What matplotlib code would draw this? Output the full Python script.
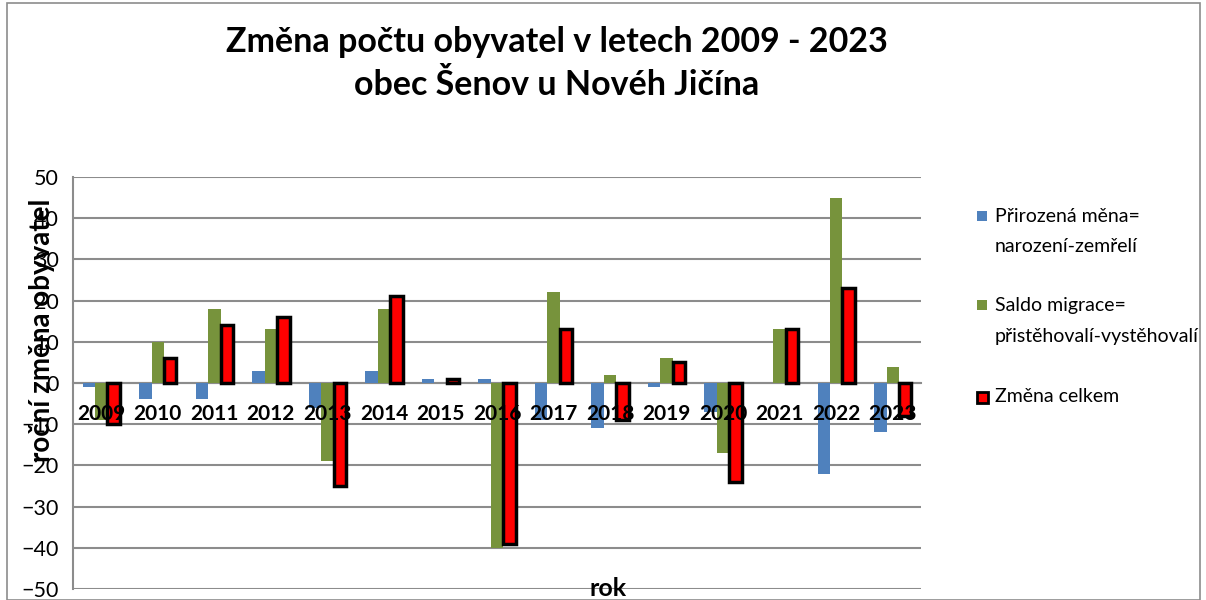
import matplotlib
matplotlib.use("Agg")
import matplotlib.pyplot as plt
import numpy as np
from matplotlib.patches import Rectangle

plt.rcParams['font.family'] = ['Lato', 'DejaVu Sans']

years = ['2009', '2010', '2011', '2012', '2013', '2014', '2015', '2016',
         '2017', '2018', '2019', '2020', '2021', '2022', '2023']
prirozena = [-1, -4, -4, 3, -6, 3, 1, 1, -9, -11, -1, -7, 0, -22, -12]
migrace = [-9, 10, 18, 13, -19, 18, 0, -40, 22, 2, 6, -17, 13, 45, 4]
celkem = [-10, 6, 14, 16, -25, 21, 1, -39, 13, -9, 5, -24, 13, 23, -8]

labels = [['Přirozená měna=', 'narození-zemřelí'],
          ['Saldo migrace=', 'přistěhovalí-vystěhovalí'],
          ['Změna celkem']]
colors = ['#4F81BD', '#77933C', '#FF0000']

W, H = 1206, 600
fig = plt.figure(figsize=(12.06, 6.0), dpi=100)
ax = fig.add_axes([73/W, 1-589/H, (921-73)/W, (589-177)/H])

x = np.arange(len(years))
w = 0.22
ax.bar(x - w, prirozena, w, color=colors[0], zorder=3)
ax.bar(x, migrace, w, color=colors[1], zorder=3)
ax.bar(x + w, celkem, w, color=colors[2], edgecolor='black', linewidth=2.5, zorder=4)

ax.set_xlim(-0.5, len(years) - 0.5)
ax.set_ylim(-50, 50)
ax.set_yticks(np.arange(-50, 51, 10))
ax.yaxis.grid(True, color='#8C8C8C', linewidth=1.5, zorder=0)
ax.set_axisbelow(True)

for s in ['top', 'right']:
    ax.spines[s].set_visible(False)
ax.spines['left'].set_color('#8C8C8C')
ax.spines['left'].set_linewidth(1.5)
ax.spines['bottom'].set_position(('data', 0))
ax.spines['bottom'].set_color('#8C8C8C')
ax.spines['bottom'].set_linewidth(1.5)

ax.set_xticks(x)
ax.set_xticklabels(years, fontsize=15, fontweight='bold')
ax.tick_params(axis='x', length=0, pad=15)
ax.tick_params(axis='y', labelsize=15.5, length=0, pad=10)
ax.xaxis.set_zorder(10)

fig.text(557/W, 1-42/H, 'Změna počtu obyvatel v letech 2009 - 2023',
         ha='center', va='center', fontsize=24.5, fontweight='bold')
fig.text(557/W, 1-85/H, 'obec Šenov u Novéh Jičína',
         ha='center', va='center', fontsize=24.5, fontweight='bold')

fig.text(608/W, 1-588/H, 'rok', ha='center', va='center',
         fontsize=18, fontweight='bold')
fig.text(42/W, 1-330/H, 'roční změna obyvatel', ha='center', va='center',
         rotation=90, fontsize=20, fontweight='bold', zorder=-1)

# legend
entries_y = [216, 305, 397]
for i, (yy, lab) in enumerate(zip(entries_y, labels)):
    if i == 2:
        fig.add_artist(Rectangle((977/W, 1-(yy+6)/H), 11/W, 11/H, transform=fig.transFigure,
                                 facecolor=colors[i], edgecolor='black', linewidth=2))
    else:
        fig.add_artist(Rectangle((977/W, 1-(yy+5)/H), 10/W, 10/H, transform=fig.transFigure,
                                 facecolor=colors[i], edgecolor='none'))
    for j, line in enumerate(lab):
        fig.text(995/W, 1-(yy + 31*j)/H, line, ha='left', va='center', fontsize=14)

fig.add_artist(Rectangle((7/W, 0.0), (1200-7)/W, 0.995, transform=fig.transFigure,
                         fill=False, edgecolor='#8C8C8C', linewidth=1.2))

fig.savefig('out.png', dpi=100)
